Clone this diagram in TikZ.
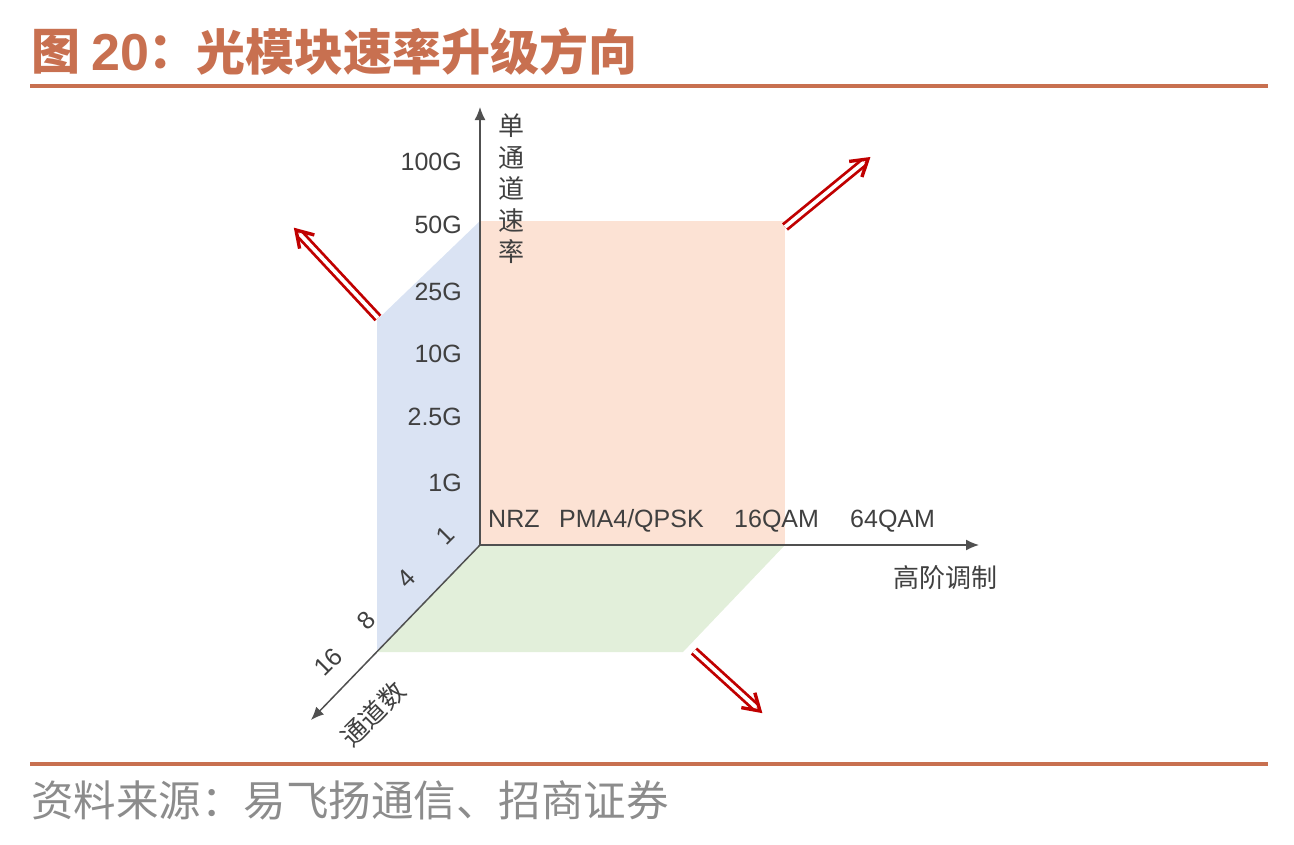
\documentclass[tikz,border=0pt]{standalone}
\usepackage{fontspec}
\setmainfont{Liberation Sans}
\newfontfamily\cjk{Noto Sans CJK SC}
\usetikzlibrary{arrows.meta,calc}
\definecolor{titlec}{RGB}{200,112,80}
\definecolor{srcgray}{RGB}{140,140,140}
\definecolor{txt}{RGB}{64,64,64}
\definecolor{axisc}{RGB}{80,80,80}
\definecolor{peach}{RGB}{252,226,212}
\definecolor{bluef}{RGB}{218,227,243}
\definecolor{greenf}{RGB}{226,239,218}
\definecolor{arrred}{RGB}{192,0,0}
\begin{document}
\begin{tikzpicture}[x=1pt,y=-1pt,
  lab/.style={font=\fontsize{25}{25}\selectfont, text=txt, inner sep=0pt},
  cjklab/.style={font=\cjk\fontsize{26}{31.5}\selectfont, text=txt, inner sep=0pt},
  axisline/.style={draw=axisc, line width=1.5pt, -{Latex[length=13pt,width=11pt]}},
  shaft/.style={draw=arrred, line width=2.8pt, double=white, double distance=3.8pt},
  chevron/.style={draw=arrred, line width=3.4pt, line join=miter, miter limit=10},
  rule/.style={draw=titlec, line width=4pt}
]
\useasboundingbox (0,0) rectangle (1294,844);
% title
\node[anchor=west, inner sep=0pt, text=titlec, font=\cjk\bfseries\fontsize{49}{49}\selectfont] (t1) at (31,52) {图};
\node[anchor=west, inner sep=0pt, text=titlec, font=\bfseries\fontsize{52}{52}\selectfont] (t2) at (91,53) {20};
\node[anchor=west, inner sep=0pt, text=titlec, font=\cjk\bfseries\fontsize{49}{49}\selectfont] (t3) at (148,52) {：};
\node[anchor=west, inner sep=0pt, text=titlec, font=\cjk\bfseries\fontsize{49}{49}\selectfont] (t4) at (196,52) {光模块速率升级方向};
\coordinate (r1a) at (30,86); \coordinate (r1b) at (1268,86);
\draw[rule] (r1a) -- (r1b);
\coordinate (r2a) at (30,764); \coordinate (r2b) at (1268,764);
\draw[rule, line width=3.5pt] (r2a) -- (r2b);
\node[anchor=west, inner sep=0pt, text=srcgray, font=\cjk\fontsize{42.5}{42.5}\selectfont] (src) at (31,800) {资料来源：易飞扬通信、招商证券};
% faces
\coordinate (O) at (480,545);
\fill[peach] (480,221) rectangle (785,545);
\fill[bluef] (480,221) -- (377,320) -- (377,652) -- (O) -- cycle;
\fill[greenf] (O) -- (785,545) -- (683,652) -- (377,652) -- cycle;
% axes
\coordinate (ytip) at (480,107);
\coordinate (xtip) at (979,545);
\coordinate (ztip) at (311,720);
\draw[axisline] (O) -- (ytip);
\draw[axisline] (O) -- (xtip);
\draw[axisline] (O) -- (ztip);
% red arrows
\coordinate (a1s) at (378,318); \coordinate (a1e) at (296,230);
\coordinate (a2s) at (785,227); \coordinate (a2e) at (868,159);
\coordinate (a3s) at (694,651); \coordinate (a3e) at (760,711);
\foreach \s/\e in {a1s/a1e, a2s/a2e, a3s/a3e}{
  \draw[shaft] (\s) -- ($(\e)!5pt!(\s)$);
  \draw[chevron] ($(\e)!19pt!32:(\s)$) -- (\e) -- ($(\e)!19pt!-32:(\s)$);
}
% y labels
\node[lab, anchor=base east] (y100) at (462,170) {100G};
\node[lab, anchor=base east] (y50) at (462,233) {50G};
\node[lab, anchor=base east] (y25) at (462,300) {25G};
\node[lab, anchor=base east] (y10) at (462,362) {10G};
\node[lab, anchor=base east] (y25b) at (462,425) {2.5G};
\node[lab, anchor=base east] (y1) at (462,491) {1G};
% x labels
\node[lab, anchor=base west] (nrz) at (488,527) {NRZ};
\node[lab, anchor=base west] (pam) at (559,527) {PMA4/QPSK};
\node[lab, anchor=base west] (q16) at (734,527) {16QAM};
\node[lab, anchor=base west] (q64) at (850,527) {64QAM};
% z labels
\node[lab, rotate=45] (z1) at (445,535) {1};
\node[lab, rotate=45] (z4) at (406,578) {4};
\node[lab, rotate=45] (z8) at (366,620) {8};
\node[lab, rotate=45] (z16) at (328,662) {16};
% axis titles
\node[cjklab, align=center] (ylab) at (511,189) {单\\通\\道\\速\\率};
\node[cjklab] (xlab) at (945,578) {高阶调制};
\node[cjklab, rotate=45] (zlab) at (373,714) {通道数};
\end{tikzpicture}
\end{document}
